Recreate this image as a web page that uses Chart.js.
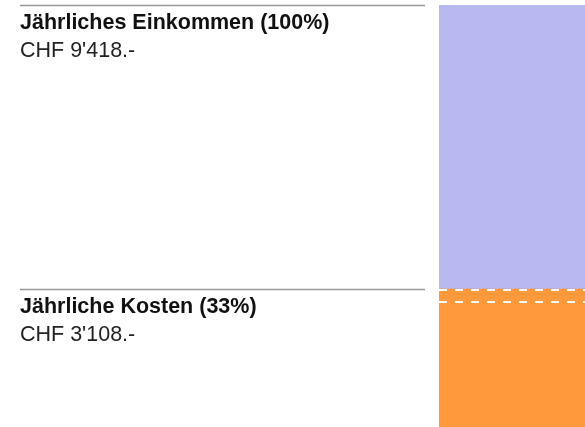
<!DOCTYPE html>
<html>
<head>
<meta charset="utf-8">
<script src="https://cdn.jsdelivr.net/npm/chart.js@4"></script>
<style>
  html, body { margin: 0; padding: 0; background: #fff; overflow: hidden; }
  #wrap { width: 585px; height: 427px; overflow: hidden; }
</style>
</head>
<body>
<div id="wrap"><canvas id="chart" width="585" height="429"></canvas></div>
<script>
// values in CHF per year
const categories = ["Budget"];
const income = 9418;
const costs = [3108];
const remainder = [income - costs[0]];
const labels = ["Jährliches Einkommen (100%)", "Jährliche Kosten (33%)"];
const amounts = ["CHF 9'418.-", "CHF 3'108.-"];
const labelValues = [income, costs[0]];
const dashValues = [3108, 2840];

const FONT = '"Liberation Sans", Arial, Helvetica, sans-serif';

const sidePlugin = {
  id: "side",
  afterDatasetsDraw(chart) {
    const { ctx } = chart;
    const y = chart.scales.y;
    const left = chart.chartArea.left;
    const right = chart.chartArea.right;

    // white dashed lines across the bar
    ctx.save();
    ctx.strokeStyle = "#ffffff";
    ctx.lineWidth = 2;
    ctx.setLineDash([8, 8]);
    dashValues.forEach(v => {
      const py = Math.round(y.getPixelForValue(v)) + 1;
      ctx.beginPath();
      ctx.moveTo(left, py);
      ctx.lineTo(right, py);
      ctx.stroke();
    });
    ctx.restore();

    // labels on the left
    ctx.save();
    labelValues.forEach((v, i) => {
      const py = Math.round(y.getPixelForValue(v)) + 0.5;
      ctx.strokeStyle = "#999999";
      ctx.lineWidth = 1.5;
      ctx.beginPath();
      ctx.moveTo(20, py);
      ctx.lineTo(425, py);
      ctx.stroke();

      ctx.textBaseline = "alphabetic";
      ctx.textAlign = "left";
      ctx.fillStyle = "#111111";
      ctx.font = "bold 21.5px " + FONT;
      ctx.fillText(labels[i], 20, py + 23.5);
      ctx.fillStyle = "#222222";
      ctx.font = "21.5px " + FONT;
      ctx.fillText(amounts[i], 20, py + 51);
    });
    ctx.restore();
  }
};

new Chart(document.getElementById("chart"), {
  type: "bar",
  data: {
    labels: categories,
    datasets: [
      {
        label: "Kosten",
        data: costs,
        backgroundColor: "rgb(255, 153, 59)",
        borderWidth: 0
      },
      {
        label: "Rest",
        data: remainder,
        backgroundColor: "rgb(185, 185, 242)",
        borderWidth: 0
      }
    ]
  },
  options: {
    responsive: false,
    animation: false,
    layout: { padding: { left: 439, right: 0, top: 5, bottom: 0 } },
    plugins: {
      legend: { display: false },
      tooltip: { enabled: false }
    },
    scales: {
      x: {
        stacked: true,
        display: false,
        grid: { display: false }
      },
      y: {
        stacked: true,
        display: false,
        min: 0,
        max: income,
        grid: { display: false }
      }
    },
    datasets: {
      bar: { barPercentage: 1, categoryPercentage: 1 }
    }
  },
  plugins: [sidePlugin]
});
</script>
</body>
</html>
